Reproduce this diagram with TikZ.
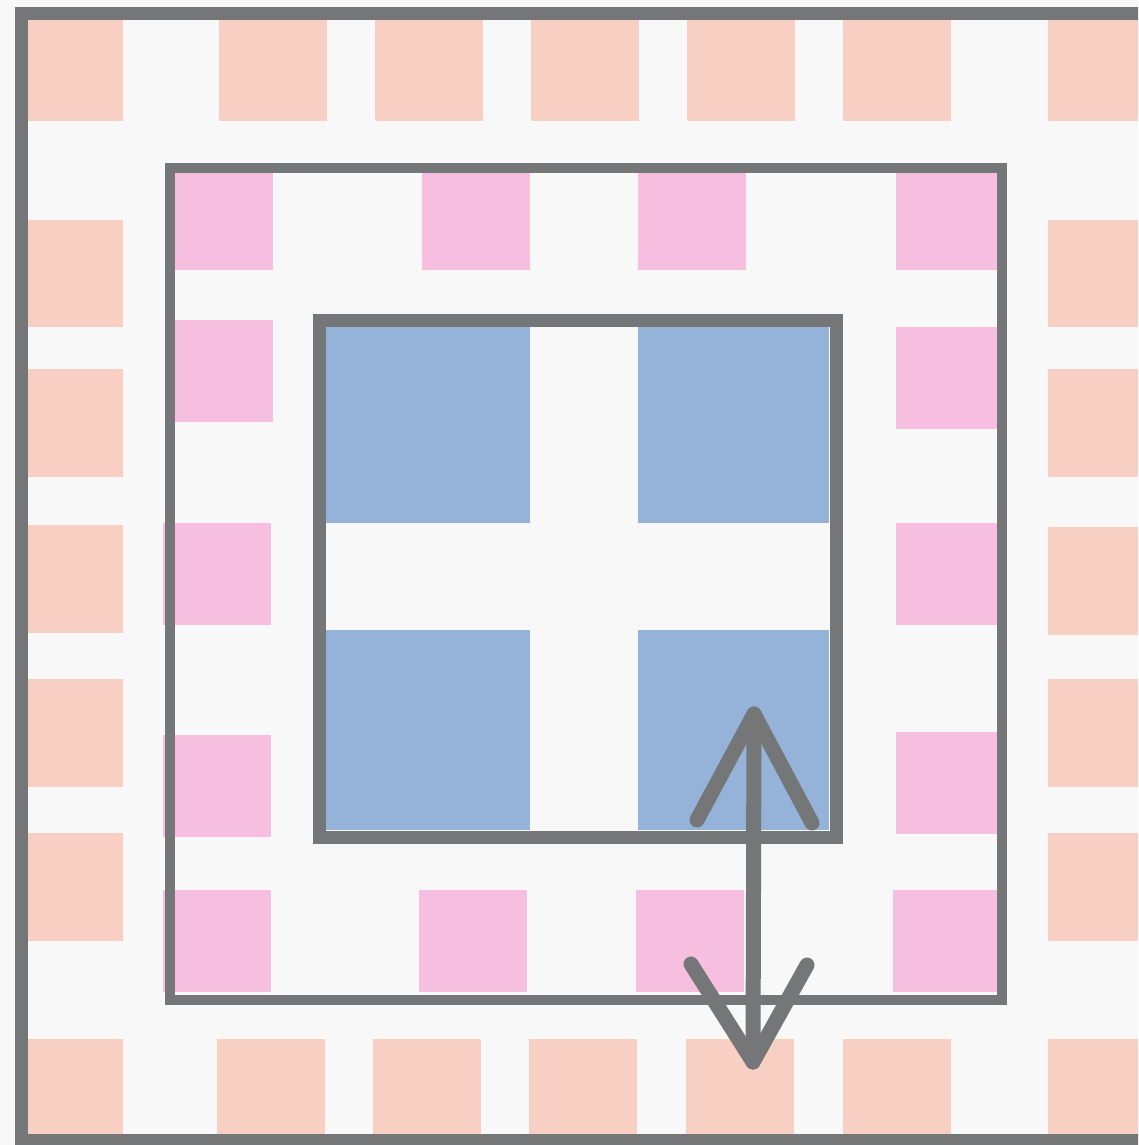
\documentclass[tikz,border=0pt]{standalone}
\usepackage{tikz}
\definecolor{bgc}{HTML}{F8F8F8}
\definecolor{framec}{HTML}{757677}
\definecolor{peachc}{HTML}{F7D0C3}
\definecolor{pinkc}{HTML}{F6BFDF}
\definecolor{bluec}{HTML}{95B2D9}
\tikzset{
  peach/.style={fill=peachc, draw=none},
  pinkbox/.style={fill=pinkc, draw=none},
  bluebox/.style={fill=bluec, draw=none},
  frame/.style={draw=framec, line join=miter},
  arrowline/.style={draw=framec, line width=15pt, line cap=round, line join=round}
}
\begin{document}
\begin{tikzpicture}[x=1pt,y=-1pt]
\useasboundingbox (0,0) rectangle (1138,1145);
\clip (0,0) rectangle (1138,1145);
\fill[bgc] (0,0) rectangle (1138,1145);
% peach squares
\foreach \a/\b in {28/123,219/327,375/483,531/639,687/795,843/951,1048/1160}
  \fill[peach] (\a,20) rectangle (\b,121);
\foreach \a/\b in {220/327,369/477,525/633,679/787,833/941,1039/1140}
  \fill[peach] (28,\a) rectangle (123,\b);
\foreach \a/\b in {220/327,369/477,527/635,679/787,833/941,1039/1140}
  \fill[peach] (1048,\a) rectangle (1160,\b);
\foreach \a/\b in {217/325,373/481,529/637,686/794,843/951}
  \fill[peach] (\a,1039) rectangle (\b,1140);
% pink squares
\foreach \a/\b/\c/\d in {175/173/273/270,422/173/530/270,638/173/746/270,896/173/997/270,
  175/320/273/422,163/523/271/625,163/735/271/837,163/890/271/992,
  896/327/997/429,896/523/997/625,896/732/997/834,
  419/890/527/992,636/890/744/992,893/890/997/992}
  \fill[pinkbox] (\a,\b) rectangle (\c,\d);
% blue squares
\foreach \a/\b/\c/\d in {326/327/530/523,638/327/829/523,326/630/530/830,638/630/829/830}
  \fill[bluebox] (\a,\b) rectangle (\c,\d);
% frames
\draw[frame, line width=13pt] (21.5,13.5) rectangle (1165,1140);
\draw[frame, line width=9.5pt] (170,168) rectangle (1002,1000);
\draw[frame, line width=13pt] (319.5,320) rectangle (836.5,837);
% double arrow
\coordinate (atop) at (754,714);
\coordinate (abot) at (753,1062);
\coordinate (tl) at (697,820);
\coordinate (tr) at (812,823);
\coordinate (bl) at (691,964);
\coordinate (br) at (807,965);
\draw[arrowline] (atop) -- (abot);
\draw[arrowline] (tl) -- (atop) -- (tr);
\draw[arrowline] (bl) -- (abot) -- (br);
\end{tikzpicture}
\end{document}
